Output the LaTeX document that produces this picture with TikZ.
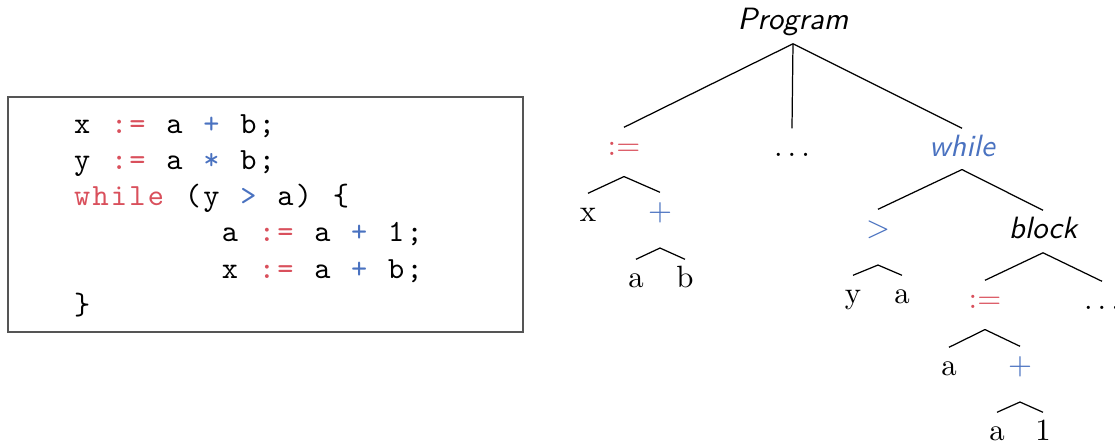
\documentclass[tikz,border=0pt]{standalone}
\usepackage{tikz}
\definecolor{kwred}{HTML}{D9505C}
\definecolor{opblue}{HTML}{4A72C0}
\definecolor{framegray}{HTML}{555555}

% fixed-width code cells (6pt per character)
\newcommand\cl[1]{\clstep#1\relax}
\def\clstep#1{\ifx\relax#1\else\makebox[6pt][c]{#1}\expandafter\clstep\fi}
\newcommand\redtt[1]{{\color{kwred}\cl{#1}}}
\newcommand\bluett[1]{{\color{opblue}\cl{#1}}}

\begin{document}
\begin{tikzpicture}[
    x=0.3247pt, y=-0.3247pt,
    % ── Code box styles ──────────────────────────────────────────────────
    codeframe/.style={
        draw=framegray, line width=0.5pt, inner sep=0pt,
        minimum width=167.2pt, minimum height=76.3pt
    },
    codeline/.style={
        anchor=base west, inner sep=0pt, font=\ttfamily
    },
    % ── Tree node styles ─────────────────────────────────────────────────
    tnode/.style={
        anchor=base, inner sep=0pt, text height=8.8pt, text depth=4.6pt
    },
    sansnode/.style={tnode, font=\sffamily\itshape},
    asgnode/.style={tnode, text=kwred, text depth=6.8pt},
    binnode/.style={tnode, text=opblue, text depth=8.9pt},
    treeline/.style={line width=0.4pt, black}
]
\useasboundingbox (0,0) rectangle (1115,443);

% ═══════════════════════════════════════════════════════════════════════════
% Source code
% ═══════════════════════════════════════════════════════════════════════════
\node[codeframe] (frame) at (265.5,214.5) {};

\node[codeline] (code1) at (72.3,133)
    {\cl{x~}\redtt{:=}\cl{~a~}\bluett{+}\cl{~b;}};
\node[codeline] (code2) at (72.3,169.3)
    {\cl{y~}\redtt{:=}\cl{~a~}\bluett{*}\cl{~b;}};
\node[codeline] (code3) at (72.3,205.6)
    {\redtt{while}\cl{~(y~}\bluett{>}\cl{~a)~\{}};
\node[codeline] (code4) at (220.1,241.9)
    {\cl{a~}\redtt{:=}\cl{~a~}\bluett{+}\cl{~1;}};
\node[codeline] (code5) at (220.1,278.2)
    {\cl{x~}\redtt{:=}\cl{~a~}\bluett{+}\cl{~b;}};
\node[codeline] (code6) at (72.3,314.5) {\cl{\}}};

% ═══════════════════════════════════════════════════════════════════════════
% Syntax tree
% ═══════════════════════════════════════════════════════════════════════════
\node[sansnode] (prog) at (793,29) {Program};

\node[asgnode] (asg1) at (624,155) {$:=$};
\node[tnode] (dots1) at (792,156) {$\ldots$};
\node[sansnode, text=opblue, text depth=4.2pt] (whl) at (962,156) {while};

\node[tnode] (x1) at (588,221) {x};
\node[binnode] (plus1) at (660,220) {$+$};
\node[tnode] (a1) at (636,287) {a};
\node[tnode] (b1) at (685,287) {b};

\node[binnode] (gt) at (878,237) {$>$};
\node[sansnode] (blk) at (1043,238) {block};
\node[tnode] (y2) at (853,303) {y};
\node[tnode] (a2) at (902,303) {a};

\node[asgnode] (asg2) at (985,308) {$:=$};
\node[tnode] (dots2) at (1102,309) {$\ldots$};
\node[tnode] (a3) at (949,375) {a};
\node[binnode] (plus3) at (1020,374) {$+$};
\node[tnode] (a4) at (997,440) {a};
\node[tnode] (one4) at (1043,440) {1};

% Tree edges
\draw[treeline] (prog.south) -- (asg1.north);
\draw[treeline] (prog.south) -- (dots1.north);
\draw[treeline] (prog.south) -- (whl.north);
\draw[treeline] (asg1.south) -- (x1.north);
\draw[treeline] (asg1.south) -- (plus1.north);
\draw[treeline] (plus1.south) -- (a1.north);
\draw[treeline] (plus1.south) -- (b1.north);
\draw[treeline] (whl.south) -- (gt.north);
\draw[treeline] (whl.south) -- (blk.north);
\draw[treeline] (gt.south) -- (y2.north);
\draw[treeline] (gt.south) -- (a2.north);
\draw[treeline] (blk.south) -- (asg2.north);
\draw[treeline] (blk.south) -- (dots2.north);
\draw[treeline] (asg2.south) -- (a3.north);
\draw[treeline] (asg2.south) -- (plus3.north);
\draw[treeline] (plus3.south) -- (a4.north);
\draw[treeline] (plus3.south) -- (one4.north);

\end{tikzpicture}
\end{document}
